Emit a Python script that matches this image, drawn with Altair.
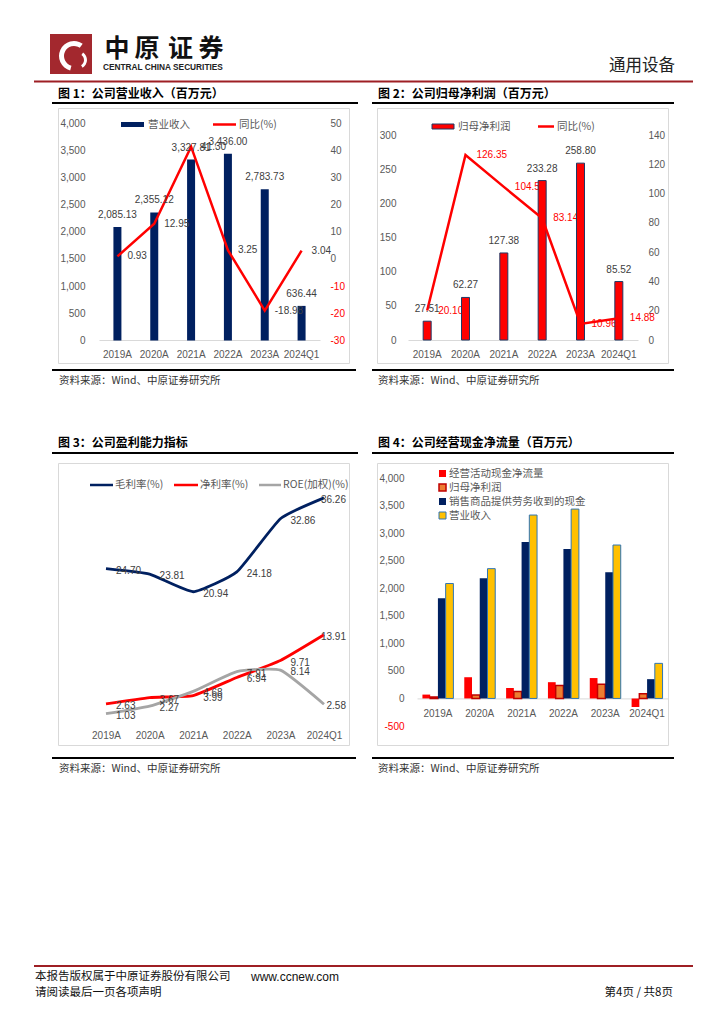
import altair as alt
import pandas as pd

# ---------------- data ----------------
cats = ["2019A", "2020A", "2021A", "2022A", "2023A", "2024Q1"]
revenue = [2085.13, 2355.12, 3327.81, 3436.00, 2783.73, 636.44]
revenue_yoy = [0.93, 12.95, 41.30, 3.25, -18.98, 3.04]
profit = [27.51, 62.27, 127.38, 233.28, 258.80, 85.52]
profit_yoy = [20.10, 126.35, 104.56, 83.14, 10.96, 14.88]
gross_margin = [24.70, 23.81, 20.94, 24.18, 32.86, 36.26]
net_margin = [2.63, 3.67, 3.99, 6.94, 9.71, 13.91]
roe = [1.03, 2.27, 4.68, 7.91, 8.14, 2.58]
op_cash = [70, 385, 190, 295, 370, -155]
sales_cash = [1820, 2180, 2840, 2710, 2290, 350]
cf_series = ["经营活动现金净流量", "归母净利润", "销售商品提供劳务收到的现金", "营业收入"]
margin_series = ["毛利率(%)", "净利率(%)", "ROE(加权)(%)"]

# ---------------- style ----------------
CJK = "Noto Sans CJK SC"
NUM = "Liberation Sans, Noto Sans CJK SC"
GRAY = "#595959"
LAB = "#404040"
NAVY = "#002060"
RED = "#FF0000"
DRED = "#9E1F24"
W = 291
H1 = 255
H2 = 282
ONE = pd.DataFrame({"k": [0]})
MINUS = "datum.value < 0 ? '-' + format(-datum.value, ',') : format(datum.value, ',')"


def txt(s, x, y, size, color="#000000", weight="normal", align="left", font=CJK):
    return alt.Chart(pd.DataFrame({"t": [s]})).mark_text(
        align=align, baseline="middle", fontSize=size, font=font,
        fontWeight=weight, color=color
    ).encode(x=alt.value(x), y=alt.value(y), text="t:N")


def hline(x1, x2, y, color, width):
    return alt.Chart(ONE).mark_rule(color=color, strokeWidth=width).encode(
        x=alt.value(x1), x2=alt.value(x2), y=alt.value(y))


def box(x1, x2, y1, y2, fill, stroke=None, sw=0):
    kw = dict(fill=fill)
    if stroke:
        kw.update(stroke=stroke, strokeWidth=sw)
    else:
        kw.update(strokeWidth=0)
    return alt.Chart(ONE).mark_rect(**kw).encode(
        x=alt.value(x1), x2=alt.value(x2), y=alt.value(y1), y2=alt.value(y2))


def fmt(v, comma=False):
    return f"{v:,.2f}" if comma else f"{v:.2f}"


# ================= Chart 1 =================
df1 = pd.DataFrame({"cat": cats, "rev": revenue, "yoy": revenue_yoy,
                    "rl": [fmt(v, True) for v in revenue],
                    "yl": [fmt(v) for v in revenue_yoy]})
x1 = alt.X("cat:N", title=None, sort=cats,
           scale=alt.Scale(type="band", domain=cats, range=[41, 262], paddingInner=0, paddingOuter=0),
           axis=alt.Axis(orient="bottom", offset=-23, labelPadding=9, domain=True,
                         domainColor="#D9D9D9", domainWidth=1, labelAngle=0))
sL1 = alt.Scale(domain=[0, 4000], range=[232.5, 15], nice=False)
sR1 = alt.Scale(domain=[-30, 50], range=[232.5, 15], nice=False, zero=False)
bars1 = alt.Chart(df1).mark_bar(size=8, color=NAVY).encode(
    x=x1, y=alt.Y("rev:Q", title=None, scale=sL1,
                  axis=alt.Axis(orient="left", offset=-27, labelPadding=0,
                                values=list(range(0, 4001, 500)), labelExpr=MINUS)))
barlab1 = alt.Chart(df1).mark_text(dy=-12, fontSize=10, font=NUM, color=LAB).encode(
    x=x1, y=alt.Y("rev:Q", scale=sL1, axis=None), text="rl:N")
line1 = alt.Chart(df1).mark_line(color=RED, strokeWidth=2.5).encode(
    x=x1, y=alt.Y("yoy:Q", title=None, scale=sR1,
                  axis=alt.Axis(orient="right", offset=-19, labelPadding=0,
                                values=list(range(-30, 51, 10)), labelExpr=MINUS,
                                labelColor={"condition": {"test": "datum.value < 0", "value": RED},
                                            "value": GRAY})))
yoylab1 = alt.Chart(df1).mark_text(align="left", dx=10, fontSize=10, font=NUM, color=LAB).encode(
    x=x1, y=alt.Y("yoy:Q", scale=sR1, axis=None), text="yl:N")

deco1 = [
    box(-8, 34, -74, -34, "#A3282E"),
    alt.Chart(ONE).mark_arc(color="white", theta=3.4, theta2=6.9, radius=15, radius2=10).encode(
        x=alt.value(16), y=alt.value(-52)),
    alt.Chart(ONE).mark_arc(color="white", theta=0.6, theta2=2.6, radius=9, radius2=6).encode(
        x=alt.value(20), y=alt.value(-48)),
]
for ch, cx in zip("中原证券", [59, 89, 122.5, 153]):
    deco1.append(txt(ch, cx, -59, 25, "#111111", "bold", "center"))
deco1 += [
    txt("CENTRAL CHINA SECURITIES", 45, -40, 8.3, "#222222", "bold", font="Liberation Sans"),
    txt("通用设备", 617, -42, 16.5, "#222222", align="right"),
    hline(-24, 635, -26.5, DRED, 2),
    txt("图 1：公司营业收入（百万元）", 0, -14, 12, "#000000", "bold"),
    hline(-6, 300, -5, "#000000", 2),
    hline(-6, 298, 262, "#000000", 2),
    txt("资料来源：Wind、中原证券研究所", 1, 273, 10.5, "#333333"),
    box(63, 86, 14, 19, NAVY),
    txt("营业收入", 90, 16.5, 10.5, GRAY),
    hline(155, 178, 16.5, RED, 2.5),
    txt("同比(%)", 181, 16.5, 10.5, GRAY),
]
c1 = alt.layer(bars1, line1, barlab1, yoylab1, *deco1).resolve_scale(y="independent").properties(
    width=W, height=H1)

# ================= Chart 2 =================
df2 = pd.DataFrame({"cat": cats, "p": profit, "yoy": profit_yoy,
                    "pl": [fmt(v) for v in profit], "yl": [fmt(v) for v in profit_yoy]})
x2 = alt.X("cat:N", title=None, sort=cats,
           scale=alt.Scale(type="band", domain=cats, range=[31, 261], paddingInner=0, paddingOuter=0),
           axis=alt.Axis(orient="bottom", offset=-23, labelPadding=9, domain=True,
                         domainColor="#D9D9D9", domainWidth=1, labelAngle=0))
sL2 = alt.Scale(domain=[0, 300], range=[232, 27], nice=False)
sR2 = alt.Scale(domain=[0, 140], range=[232, 27], nice=False)
yoylab2 = alt.Chart(df2).mark_text(align="left", dx=11, fontSize=10, font=NUM, color=RED).encode(
    x=x2, y=alt.Y("yoy:Q", scale=sR2, axis=None), text="yl:N")
bars2 = alt.Chart(df2).mark_bar(size=8, fill=RED, stroke="#1F3864", strokeWidth=1).encode(
    x=x2, y=alt.Y("p:Q", title=None, scale=sL2,
                  axis=alt.Axis(orient="left", offset=-19, labelPadding=0,
                                values=list(range(0, 301, 50)))))
line2 = alt.Chart(df2).mark_line(color=RED, strokeWidth=2.5).encode(
    x=x2, y=alt.Y("yoy:Q", title=None, scale=sR2,
                  axis=alt.Axis(orient="right", offset=-20, labelPadding=0,
                                values=list(range(0, 141, 20)))))
barlab2 = alt.Chart(df2).mark_text(dy=-12, fontSize=10, font=NUM, color=LAB).encode(
    x=x2, y=alt.Y("p:Q", scale=sL2, axis=None), text="pl:N")
deco2 = [
    txt("图 2：公司归母净利润（百万元）", 1, -14, 12, "#000000", "bold"),
    hline(-5, 297, -5, "#000000", 2),
    hline(-5, 297, 262, "#000000", 2),
    txt("资料来源：Wind、中原证券研究所", 1, 273, 10.5, "#333333"),
    box(55, 77, 16, 21, RED, "#1F3864", 1),
    txt("归母净利润", 81, 18.5, 10.5, GRAY),
    hline(161, 177, 18.5, RED, 2.5),
    txt("同比(%)", 180, 18.5, 10.5, GRAY),
]
c2 = alt.layer(yoylab2, bars2, line2, barlab2, *deco2).resolve_scale(y="independent").properties(
    width=W, height=H1)

# ================= Chart 3 =================
rows3 = []
for s, vals in zip(margin_series, [gross_margin, net_margin, roe]):
    for i, (c, v) in enumerate(zip(cats, vals)):
        rows3.append({"cat": c, "series": s, "v": v, "lab": fmt(v), "last": i == len(cats) - 1})
df3 = pd.DataFrame(rows3)
x3 = alt.X("cat:N", title=None, sort=cats,
           scale=alt.Scale(type="point", domain=cats, range=[48, 266], padding=0),
           axis=alt.Axis(orient="bottom", offset=-25, labelPadding=10, domain=False, labelAngle=0))
s3 = alt.Scale(domain=[0, 40], range=[257, 12], nice=False)
cols3 = [NAVY, RED, "#A5A5A5"]
lines3 = []
for s, col in zip(margin_series, cols3):
    lines3.append(alt.Chart(df3).transform_filter(alt.datum.series == s).mark_line(
        color=col, strokeWidth=2.8, interpolate="cardinal", tension=0.55).encode(
        x=x3, y=alt.Y("v:Q", title=None, scale=s3,
                      axis=alt.Axis(orient="left", offset=-15, labelPadding=0,
                                    values=list(range(0, 41, 5))))))
lab3a = alt.Chart(df3).transform_filter("!datum.last").mark_text(
    align="left", dx=10, dy=2, fontSize=10, font=NUM, color=LAB).encode(
    x=x3, y=alt.Y("v:Q", scale=s3, axis=None), text="lab:N")
lab3b = alt.Chart(df3).transform_filter("datum.last").mark_text(
    align="right", dx=22, dy=2, fontSize=10, font=NUM, color=LAB).encode(
    x=x3, y=alt.Y("v:Q", scale=s3, axis=None), text="lab:N")
deco3 = [
    txt("图 3：公司盈利能力指标", 0, -20, 12, "#000000", "bold"),
    hline(-6, 300, -10, "#000000", 2),
    hline(-6, 298, 295, "#000000", 2),
    txt("资料来源：Wind、中原证券研究所", 1, 306, 10.5, "#333333"),
    hline(32, 55, 22, NAVY, 2.5), txt("毛利率(%)", 57, 22, 10.5, GRAY),
    hline(116, 140, 22, RED, 2.5), txt("净利率(%)", 142, 22, 10.5, GRAY),
    hline(201, 223, 22, "#A5A5A5", 2.5), txt("ROE(加权)(%)", 225, 22, 10.5, GRAY),
    hline(-24, 635, 503, DRED, 2),
    txt("本报告版权属于中原证券股份有限公司", -23, 514, 11.5, "#111111"),
    txt("www.ccnew.com", 193, 514, 12, "#111111", font="Liberation Sans"),
    txt("请阅读最后一页各项声明", -23, 530, 11.5, "#111111"),
    txt("第4页 / 共8页", 615, 530, 11.5, "#111111", align="right"),
]
c3 = alt.layer(*lines3, lab3a, lab3b, *deco3).properties(width=W, height=H2)

# ================= Chart 4 =================
rows4 = []
for s, vals in zip(cf_series, [op_cash, profit, sales_cash, revenue]):
    for c, v in zip(cats, vals):
        rows4.append({"cat": c, "series": s, "v": v})
df4 = pd.DataFrame(rows4)
x4 = alt.X("cat:N", title=None, sort=cats,
           scale=alt.Scale(type="band", domain=cats, range=[40, 291], paddingInner=0.26, paddingOuter=0.13),
           axis=alt.Axis(orient="bottom", offset=-46.6, labelPadding=10, domain=True,
                         domainColor="#D9D9D9", domainWidth=1, labelAngle=0))
bars4 = alt.Chart(df4).mark_bar().encode(
    x=x4,
    xOffset=alt.XOffset("series:N", sort=cf_series,
                        scale=alt.Scale(domain=cf_series, paddingInner=0, paddingOuter=0)),
    y=alt.Y("v:Q", title=None, scale=alt.Scale(domain=[-500, 4000], range=[263, 15], nice=False),
            axis=alt.Axis(orient="left", offset=-27, labelPadding=0, values=list(range(-500, 4001, 500)),
                          labelExpr=MINUS,
                          labelColor={"condition": {"test": "datum.value < 0", "value": RED},
                                      "value": GRAY})),
    fill=alt.Fill("series:N", scale=alt.Scale(domain=cf_series, range=[RED, "#ED7D31", NAVY, "#FFC000"]),
                  legend=None),
    stroke=alt.Stroke("series:N", scale=alt.Scale(domain=cf_series, range=[RED, "#C00000", NAVY, "#2E75B6"]),
                      legend=None),
    strokeWidth=alt.StrokeWidth("series:N", scale=alt.Scale(type="ordinal", domain=cf_series,
                                                            range=[0, 1.5, 0, 1]), legend=None),
)
deco4 = [
    txt("图 4：公司经营现金净流量（百万元）", 1, -20, 12, "#000000", "bold"),
    hline(-5, 297, -10, "#000000", 2),
    hline(-5, 297, 295, "#000000", 2),
    txt("资料来源：Wind、中原证券研究所", 1, 306, 10.5, "#333333"),
    box(62, 69, 7, 14, RED),
    box(62, 69, 21, 28, "#ED7D31", "#C00000", 1.5),
    box(62, 69, 35, 42, NAVY),
    box(62, 69, 49, 56, "#FFC000", "#2E75B6", 1),
]
for i, s in enumerate(cf_series):
    deco4.append(txt(s, 72, 10.5 + 14 * i, 10.5, GRAY))
c4 = alt.layer(bars4, *deco4).properties(width=W, height=H2)

chart = alt.concat(c1, c2, c3, c4, columns=2, bounds="flush",
                   spacing={"row": 100, "column": 28}).properties(
    padding={"left": 24, "top": 25, "right": 2, "bottom": 2}
).configure_view(stroke="#D9D9D9", strokeWidth=1).configure_axis(
    labelFont=NUM, labelFontSize=10, labelColor=GRAY, ticks=False, tickSize=0,
    domain=False, grid=False)

chart.save("out.html", embed_options={"renderer": "svg", "actions": False})
